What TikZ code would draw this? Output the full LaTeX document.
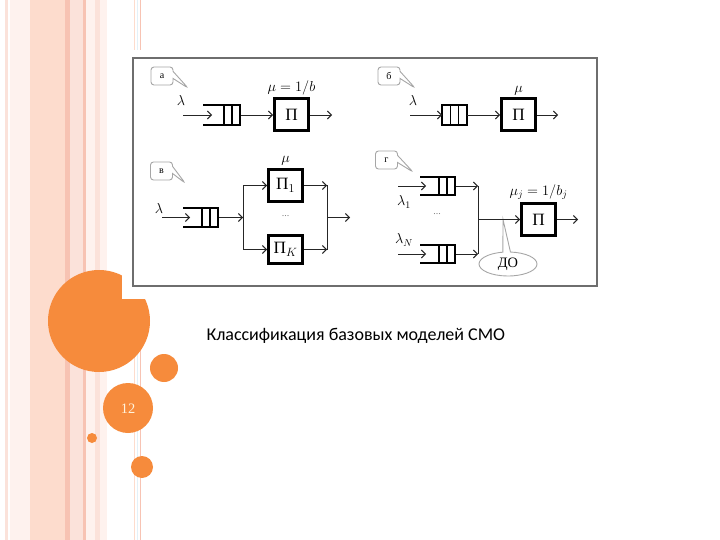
\documentclass[tikz,border=0pt]{standalone}
\usepackage{fontspec}
\setmainfont{Liberation Serif}
\newfontfamily\capfont{Carlito}
\usetikzlibrary{arrows.meta,shapes.callouts,shapes.geometric,positioning}

\definecolor{slideorange}{HTML}{F68B3C}
\definecolor{stripeP}{HTML}{FDDCCD}
\definecolor{stripeD}{HTML}{F7C3B3}
\definecolor{stripeB}{HTML}{FBE2DA}
\definecolor{stripeL}{HTML}{FEF2EE}
\definecolor{stripeBlue}{HTML}{E3F1F8}
\definecolor{framegray}{HTML}{6E6E6E}
\definecolor{pagecream}{HTML}{FFF3DC}

\tikzset{
  server/.style={draw, line width=3pt, minimum width=34pt, minimum height=32pt, inner sep=0pt, font=\LARGE},
  queue/.style={inner sep=0pt, outer sep=0pt, minimum width=37pt, minimum height=20pt},
  qline/.style={line width=1.8pt},
  cell/.style={line width=1.2pt},
  flow/.style={draw=black!85, line width=0.9pt, -{Straight Barb[length=4pt,width=8pt]}},
  link/.style={draw=black!85, line width=0.9pt},
  tag/.style={rectangle callout, draw=black!35, line width=0.9pt, rounded corners=3pt, fill=white,
              minimum width=22pt, minimum height=18pt, inner sep=0pt, font=\normalsize},
  rate/.style={font=\Large, inner sep=1pt},
}

\begin{document}
\begin{tikzpicture}[x=1pt,y=-1pt]
\useasboundingbox (0,0) rectangle (720,540);

% stripes on the left
\foreach \xa/\xb/\c in {5/8/stripeB, 10/30/stripeL, 30/65/stripeP, 65/70/stripeD, 70/83/stripeB,
                        83/86/stripeD, 86/95/stripeL, 95/100/stripeB, 100/107/stripeL}
  \fill[\c] (\xa,0) rectangle (\xb,540);
\foreach \xa/\c in {134/stripeP, 137/stripeBlue, 140/stripeD}
  \draw[\c, line width=1pt] (\xa,0) -- (\xa,540);

% circles
\fill[slideorange] (99,321) circle (51pt);
\fill[slideorange] (164,368) circle (14pt);
\fill[slideorange] (128,408) circle (25pt);
\fill[slideorange] (92,438) circle (5pt);
\fill[slideorange] (142,467) circle (11pt);
\node[font=\Large, text=pagecream] (pg) at (128,409) {12};

% picture area
\fill[white] (122,50) rectangle (605,299);
\draw[framegray, line width=1.8pt] (133,58) rectangle (597,286);

% a
\coordinate (pa) at (188,88);
\node[tag, callout absolute pointer={(pa)}] (ta) at (162,76) {а};
\node[rate] (la) at (181,101) {$\lambda$};
\coordinate (ina) at (183,115);
\node[queue] (qa) at (221.5,115) {};
\node[server] (sa) at (291.5,115) {П};
\node[rate, above=1pt of sa] (ma) {$\mu=1/b$};
\coordinate (outa) at (332,115);
\draw[flow, shorten >=-9pt] (ina) -- (qa.west);
\draw[flow] (qa.east) -- (sa.west);
\draw[flow] (sa.east) -- (outa);

% b
\coordinate (pb) at (415,88);
\node[tag, callout absolute pointer={(pb)}] (tb) at (389,76) {б};
\node[rate] (lb) at (413,101) {$\lambda$};
\coordinate (inb) at (410,115);
\node[queue, minimum width=25pt] (qb) at (454.5,115) {};
\node[server] (sb) at (518.5,115) {П};
\node[rate, above=1pt of sb] (mb) {$\mu$};
\coordinate (outb) at (558,115);
\draw[qline] (qb.north west) rectangle (qb.south east);
\draw[cell] ([xshift=8.3pt]qb.north west) -- ([xshift=8.3pt]qb.south west)
            ([xshift=16.7pt]qb.north west) -- ([xshift=16.7pt]qb.south west);
\draw[flow] (inb) -- (qb.west);
\draw[flow] (qb.east) -- (sb.west);
\draw[flow] (sb.east) -- (outb);

% v
\coordinate (pc) at (185,183);
\node[tag, callout absolute pointer={(pc)}] (tc) at (161.5,171) {в};
\node[rate] (lc) at (159,209) {$\lambda$};
\coordinate (inc) at (162,217.5);
\node[queue, minimum width=35pt, minimum height=19pt] (qc) at (200.5,217.5) {};
\coordinate (jv) at (243,217.5);
\node[server] (s1) at (285.5,185.5) {П$_1$};
\node[server, minimum height=28pt] (sK) at (285.5,249.5) {П$_K$};
\node[rate, above=1pt of s1] (mc) {$\mu$};
\node[text=black!50] (dc) at (285.5,216) {...};
\coordinate (jo) at (327,217.5);
\coordinate (outc) at (350,217.5);
\draw[flow, shorten >=-7pt] (inc) -- (qc.west);
\draw[flow] (qc.east) -- (jv);
\draw[link] (jv |- s1) -- (jv |- sK);
\draw[flow] (jv |- s1) -- (s1.west);
\draw[flow] (jv |- sK) -- (sK.west);
\draw[flow] (s1.east) -- (jo |- s1);
\draw[flow] (sK.east) -- (jo |- sK);
\draw[link] (jo |- s1) -- (jo |- sK);
\draw[flow] (jo) -- (outc);

% g
\coordinate (pg) at (413,172);
\node[tag, callout absolute pointer={(pg)}] (tg) at (386.5,160) {г};
\node[rate] (l1) at (404,202) {$\lambda_1$};
\node[rate] (lN) at (404,240) {$\lambda_N$};
\coordinate (in1) at (398,186);
\coordinate (inN) at (398,254);
\node[queue, minimum width=35pt, minimum height=18pt] (q1) at (437.5,186) {};
\node[queue, minimum width=35pt, minimum height=18pt] (qN) at (437.5,254) {};
\node[text=black!50] (dg) at (437,214) {...};
\coordinate (jg) at (478,219.5);
\coordinate (dp) at (503,219.5);
\node[server] (sg) at (538.5,219.5) {П};
\node[rate, above=1pt of sg] (mg) {$\mu_j=1/b_j$};
\coordinate (outg) at (578,219.5);
\node[ellipse callout, draw=black!35, line width=0.9pt, fill=white, callout absolute pointer={(dp)},
      minimum width=58pt, minimum height=24pt, inner sep=0pt, font=\Large] (do) at (508,264) {ДО};
\draw[flow, shorten >=-6pt] (in1) -- (q1.west);
\draw[flow, shorten >=-6pt] (inN) -- (qN.west);
\draw[flow] (q1.east) -- (jg |- q1);
\draw[flow] (qN.east) -- (jg |- qN);
\draw[link] (jg |- q1) -- (jg |- qN);
\draw[flow] (jg) -- (sg.west);
\draw[flow] (sg.east) -- (outg);

% open queues
\foreach \q in {qa,qc,q1,qN} {
  \draw[qline] (\q.north west) -- (\q.north east) -- (\q.south east) -- (\q.south west);
  \draw[cell] ([xshift=-8pt]\q.north east) -- ([xshift=-8pt]\q.south east)
              ([xshift=-16pt]\q.north east) -- ([xshift=-16pt]\q.south east);
}

% caption
\node[anchor=west, font=\capfont\fontsize{18}{21}\selectfont] (cap) at (203,336) {Классификация базовых моделей СМО};
\end{tikzpicture}
\end{document}
